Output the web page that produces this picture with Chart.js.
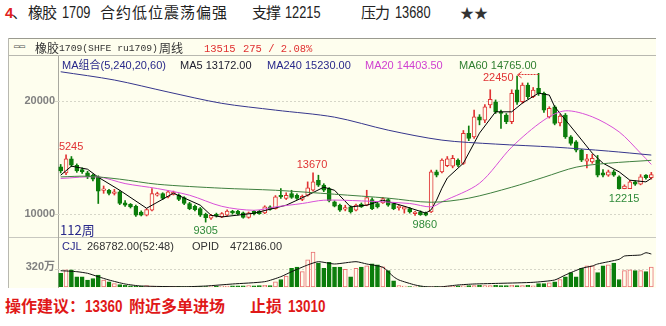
<!DOCTYPE html>
<html>
<head>
<meta charset="utf-8">
<script src="https://cdn.jsdelivr.net/npm/chart.js@4.4.1/dist/chart.umd.min.js"></script>
<style>
  body { margin: 0; width: 666px; height: 326px; background: #fff; position: relative; overflow: hidden; }
  .t { position: absolute; white-space: nowrap; line-height: 1; }
  .cn { font-family: "Noto Sans CJK SC", sans-serif; }
  .lat { font-family: "Liberation Sans", "Noto Sans CJK SC", sans-serif; }
  .mono { font-family: "Liberation Mono", monospace; }
  .sq { transform: scaleX(0.8); transform-origin: 0 0; font-family: "Liberation Sans", sans-serif; }
  #panel { position: absolute; left: 8px; top: 38px; width: 648px; height: 250px; background: #fefeee; }
  .hl { position: absolute; height: 1px; background: #a9a9a0; }
  .vl { position: absolute; width: 1px; background: #a9a9a0; }
  canvas { position: absolute; }
</style>
</head>
<body>

<!-- title -->
<div class="t lat" style="left:5px;top:5px;font-size:15px;font-weight:bold;color:#e02020">4</div>
<div class="t cn" style="left:12px;top:4px;font-size:15px;color:#222">、</div>
<div class="t cn" style="left:28px;top:4px;font-size:15px;letter-spacing:-1px;color:#222">橡胶</div>
<div class="t sq" style="left:62px;top:5px;font-size:16px;color:#222">1709</div>
<div class="t cn" style="left:100px;top:4px;font-size:15px;letter-spacing:1px;color:#222">合约低位震荡偏强</div>
<div class="t cn" style="left:252px;top:4px;font-size:15px;letter-spacing:-1px;color:#222">支撑</div>
<div class="t sq" style="left:285px;top:5px;font-size:16px;color:#222">12215</div>
<div class="t cn" style="left:361px;top:4px;font-size:15px;letter-spacing:-1px;color:#222">压力</div>
<div class="t sq" style="left:395px;top:5px;font-size:16px;color:#222">13680</div>
<div class="t cn" style="left:460px;top:5px;font-size:14px;color:#333">★★</div>

<div id="panel"></div>
<div class="hl" style="left:8px;top:38px;width:648px;background:#9a9a90"></div>
<div class="hl" style="left:8px;top:55px;width:648px;background:#b8b8b0"></div>
<div class="hl" style="left:8px;top:237px;width:648px;background:#c8c8c0"></div>
<div class="vl" style="left:8px;top:38px;height:250px;background:#b8b8b0"></div>
<div class="vl" style="left:58px;top:56px;height:232px;background:#a9a9a0"></div>

<canvas id="price" width="648" height="181" style="left:8px;top:56px"></canvas>
<canvas id="vol" width="648" height="38" style="left:8px;top:250px"></canvas>

<!-- panel header -->
<div class="t mono" style="left:14px;top:43px;font-size:9px;color:#555">▭▭</div>
<div class="t cn" style="left:35px;top:42px;font-size:12px;color:#333">橡胶</div>
<div class="t mono" style="left:59px;top:44px;font-size:9.7px;color:#333">1709(SHFE ru1709)</div>
<div class="t cn" style="left:159px;top:42px;font-size:12px;color:#333">周线</div>
<div class="t mono" style="left:204px;top:44px;font-size:10.5px;color:#e03030">13515</div>
<div class="t mono" style="left:243px;top:44px;font-size:10.5px;color:#e03030">275 / 2.08%</div>

<!-- MA legend -->
<div class="t lat" style="left:62px;top:60px;font-size:11px;color:#28288a">MA组合(5,240,20,60)</div>
<div class="t lat" style="left:180px;top:60px;font-size:11px;color:#202030">MA5 13172.00</div>
<div class="t lat" style="left:267px;top:60px;font-size:11px;color:#28288a">MA240 15230.00</div>
<div class="t lat" style="left:365px;top:60px;font-size:11px;color:#d040d0">MA20 14403.50</div>
<div class="t lat" style="left:459px;top:60px;font-size:11px;color:#2f7f2f">MA60 14765.00</div>

<div class="t cn" style="left:60px;top:223px;font-size:13px;color:#28288a">112周</div>

<!-- volume header -->
<div class="t lat" style="left:62px;top:241px;font-size:11px;color:#28288a">CJL</div>
<div class="t lat" style="left:87px;top:241px;font-size:11px;color:#303030">268782.00(52:48)</div>
<div class="t lat" style="left:192px;top:241px;font-size:11px;color:#303030">OPID</div>
<div class="t lat" style="left:230px;top:241px;font-size:11px;color:#303030">472186.00</div>

<!-- advice -->
<div class="t cn" style="left:5px;top:297px;font-size:16px;font-weight:bold;color:#e01818">操作建议：</div>
<div class="t sq" style="left:85px;top:299px;font-size:16px;font-weight:bold;color:#e01818;transform:scaleX(0.84)">13360</div>
<div class="t cn" style="left:129px;top:297px;font-size:16px;font-weight:bold;color:#e01818">附近多单进场</div>
<div class="t cn" style="left:250px;top:297px;font-size:16px;font-weight:bold;color:#e01818">止损</div>
<div class="t sq" style="left:288px;top:299px;font-size:16px;font-weight:bold;color:#e01818;transform:scaleX(0.84)">13010</div>

<script>
// weekly candles
const opens = [14190,13650,14890,14330,13950,13650,13450,13300,12100,12120,11830,11970,11000,10880,10700,10200,9910,10350,11680,11830,
  11530,11750,11680,11480,10950,10700,10500,10000,9650,10000,9760,9910,10260,10260,10120,9710,10260,10260,10120,10650,
  10500,11680,11390,11830,11680,11300,11680,12120,13000,12570,12270,11090,10800,10440,10650,10350,10880,10800,11300,10950,
  11000,11300,10950,10590,10440,10500,10060,10200,10120,10200,13740,13740,14300,14250,14780,14490,17140,16840,18610,18320,
  19650,19940,19050,18760,18170,21000,19940,21420,20380,21120,20680,18610,19500,18080,18760,16840,16400,15660,14700,14630,
  14780,13650,13450,13750,13300,12270,12270,12860,12650,13450,13240];
const highs = [14400,15245,15100,14450,14100,13800,13550,13400,12500,12200,12200,12100,11200,10950,10800,10300,10500,12270,11950,11900,
  12100,12050,11800,11550,11050,10800,10600,10100,10000,10100,10150,10400,10350,10350,10200,10200,10350,10350,10750,10750,
  11650,12270,11900,12120,11800,11700,12860,13670,13450,12700,12350,11200,10900,10800,10750,10900,11000,12120,11450,11050,
  11500,11400,11050,10800,10700,10600,10250,10300,10200,13900,13900,14900,15100,15200,14900,17400,17800,19200,18800,19700,
  21000,20100,19200,18900,21000,22200,21600,21600,21200,22450,20800,19500,19600,18800,18900,16950,16500,15750,15300,15300,
  15200,13950,13900,13900,13400,12600,13000,12950,13500,13500,13700];
const lows = [13650,13500,14200,13700,13600,13150,12950,10950,11850,11700,11700,10850,10700,10550,9800,9850,9850,10300,11600,11300,
  11450,11700,11200,10850,10400,10300,9800,9305,9550,9750,9700,9850,10000,9950,9650,9650,9950,10000,10050,10350,
  10450,11400,11300,11400,11300,11200,11600,12050,12450,12000,11100,10650,10250,10300,10100,10300,10600,10750,10400,10550,
  10950,10700,10400,10350,10100,10100,9900,9900,9860,10150,13300,13650,14200,14100,14200,14400,16500,16700,17900,18100,
  19400,18900,17580,18000,18000,19700,19800,20200,20300,20500,19000,18500,17900,17800,16700,16100,15500,14650,14100,14500,
  13300,13300,13350,13350,12215,12250,12250,12550,12600,13100,13100];
const closes = [13830,14890,14330,13830,13750,13300,13100,12030,12250,11830,11970,10950,10800,10650,9910,9910,10420,11830,11830,11390,
  11970,11950,11300,10950,10500,10400,9910,9700,9910,9850,10060,10290,10120,10060,9710,10120,10060,10060,10650,10420,
  11530,11530,11680,11480,11390,11590,12330,12860,12570,12120,11180,10710,10350,10590,10200,10800,10650,11480,10500,10650,
  11390,10800,10500,10700,10650,10200,10200,9960,9910,13740,13450,14780,14900,14930,14330,17140,16700,18610,18320,19500,
  20150,19050,18900,18170,20680,19900,21420,20380,20970,20680,19200,19350,18030,18670,16840,16260,15660,14780,14900,14930,
  13450,13450,13750,13450,12270,12480,12860,12650,13300,13240,13515];
// volume, in 万手
const volumes = [252,314,314,188,188,126,157,220,126,94,63,44,31,
  20,18,15,25,15,12,10,8,8,6,5,5,5,6,8,10,12,15,18,20,22,20,25,22,25,30,28,
  94,138,200,345,364,282,501,640,440,345,452,364,364,326,188,345,364,389,426,408,370,300,113,25,
  15,10,8,6,5,6,8,10,15,18,20,22,25,28,30,25,28,30,25,28,30,25,28,30,
  20,63,63,75,94,138,188,263,188,345,389,389,263,389,408,440,138,300,314,300,300,282,364];
// moving averages and open interest read at [week index, value]
const ma5Pts = [[0,13450],[2,14250],[5,13980],[7,13270],[11,12120],[16,10530],[21,11860],[26,10800],[28,9910],[30,9760],
  [36,10090],[42,10800],[46,11680],[49,12390],[51,12120],[54,10650],[57,10800],[60,11240],[64,10710],[68,10100],
  [69,10400],[70,11240],[71,12300],[72,13200],[75,14510],[78,17170],[81,19050],[84,19050],[86,19820],[89,20700],
  [91,20530],[92,19500],[96,17170],[99,15400],[101,14510],[104,13750],[106,13010],[109,12860],[110,13172]];
const ma20Pts = [[0,13160],[7,13300],[12,12710],[18,12270],[24,11680],[30,10700],[36,10350],[40,10650],[45,10950],[49,11240],
  [56,11180],[65,10950],[69,10650],[71,11090],[78,12740],[84,15930],[90,18320],[94,19140],[99,18610],[104,17280],[108,15400],[110,14404]];
const ma60Pts = [[0,13300],[5,13360],[11,13100],[18,12650],[30,12300],[40,12120],[51,11770],[61,11420],[69,11060],[76,11420],
  [84,12390],[90,13270],[96,14160],[102,14510],[110,14765]];
const ma240Pts = [[0,22590],[10,21860],[20,20800],[30,19800],[40,19200],[51,18580],[61,17430],[71,16550],[81,16200],[92,15930],
  [102,15580],[110,15230]];
const opidPts = [[0,23.3],[3,21.9],[5,19.6],[7,14.7],[9,10],[12,4.3],[15,1.4],[23,0.4],[27,1.4],[32,4.3],[38,7.6],[41,14.7],
  [43,21.9],[46,31.5],[48,36.2],[51,32.9],[55,36.2],[57,32.9],[60,28.2],[62,14.7],[63,10],[66,2.9],[68,0.4],[71,0.4],
  [74,2.9],[77,4.3],[82,5.3],[88,6.7],[92,10],[94,17.2],[97,26.7],[99,30],[100,32.9],[104,39.6],[105,44.3],[108,45.8],
  [109,49],[110,47.2]];

const RED = '#e03434';
const GREEN = '#0b7d0b';
const CREAM = '#fefeee';

const N = closes.length;
const labels = closes.map((c, i) => String(i + 1));
const isUp = closes.map((c, i) => c >= opens[i]);
const candleColor = isUp.map(u => u ? RED : GREEN);

function seriesFrom(pts) {
  const arr = new Array(N).fill(null);
  pts.forEach(p => { arr[p[0]] = p[1]; });
  return arr;
}

function maLine(pts, color, tension) {
  return {
    type: 'line', data: seriesFrom(pts), borderColor: color, borderWidth: 1,
    pointRadius: 0, spanGaps: true, tension: tension, order: 0
  };
}

// high / low markers
const notes = [
  { i: 1, kind: 'high', color: RED, dx: 2, dy: 2 },
  { i: 47, kind: 'high', color: RED, dx: -1, dy: 2 },
  { i: 89, kind: 'high', color: RED, arrow: true },
  { i: 27, kind: 'low', color: '#2f8a3a', dx: 0, dy: 3 },
  { i: 68, kind: 'low', color: '#2f8a3a', dx: -1, dy: 4 },
  { i: 104, kind: 'low', color: '#2f8a3a', dx: 5, dy: 4 }
];

const notePlugin = {
  id: 'notes',
  afterDatasetsDraw(chart) {
    const { ctx, chartArea, scales } = chart;
    ctx.save();
    ctx.beginPath();
    ctx.rect(chartArea.left, chartArea.top, chartArea.right - chartArea.left, chartArea.bottom - chartArea.top);
    ctx.clip();
    ctx.font = '11px "Liberation Sans"';
    notes.forEach(n => {
      const v = n.kind === 'high' ? highs[n.i] : lows[n.i];
      const x = scales.x.getPixelForValue(n.i);
      const y = scales.y.getPixelForValue(v);
      ctx.fillStyle = n.color;
      ctx.strokeStyle = n.color;
      if (n.arrow) {
        ctx.textAlign = 'right';
        ctx.textBaseline = 'middle';
        ctx.fillText(String(v), x - 25, y + 5);
        ctx.lineWidth = 1;
        ctx.beginPath();
        ctx.moveTo(x - 17, y - 1.5); ctx.lineTo(x - 21, y + 1.5); ctx.lineTo(x - 17, y + 4.5);
        ctx.stroke();
        ctx.setLineDash([2, 1]);
        ctx.beginPath();
        ctx.moveTo(x - 20, Math.round(y) + 1.5); ctx.lineTo(x, Math.round(y) + 1.5);
        ctx.stroke();
        ctx.setLineDash([]);
      } else {
        ctx.textAlign = 'center';
        ctx.textBaseline = n.kind === 'high' ? 'bottom' : 'top';
        ctx.fillText(String(v), x + n.dx, n.kind === 'high' ? y - n.dy : y + n.dy);
      }
    });
    ctx.restore();
  }
};

// fixed axis width, no label padding above/below the plot
const fixedLeft = s => { s.width = 50; s.paddingTop = 0; s.paddingBottom = 0; };

new Chart(document.getElementById('price'), {
  type: 'bar',
  data: {
    labels: labels,
    datasets: [
      maLine(ma240Pts, '#36368c', 0.3),
      maLine(ma60Pts, '#3f7f3f', 0.3),
      maLine(ma20Pts, '#d850d8', 0.3),
      maLine(ma5Pts, '#000000', 0),
      {
        data: opens.map((o, i) => [o, closes[i]]),
        backgroundColor: isUp.map(u => u ? CREAM : GREEN),
        borderColor: candleColor, borderWidth: 1, borderSkipped: false,
        barThickness: 4, grouped: false, order: 1
      },
      {
        data: lows.map((l, i) => [l, highs[i]]),
        backgroundColor: candleColor, barThickness: 1, grouped: false, order: 2
      }
    ]
  },
  options: {
    responsive: false, animation: false,
    layout: { padding: { left: 0, right: 2, top: 0, bottom: 0 }, autoPadding: false },
    plugins: { legend: { display: false }, tooltip: { enabled: false } },
    scales: {
      x: { display: false, offset: true },
      y: {
        min: 7990, max: 23982,
        afterFit: fixedLeft,
        afterBuildTicks: s => { s.ticks = [{ value: 10000 }, { value: 20000 }]; },
        ticks: {
          color: '#808080', padding: 0,
          font: { family: 'Liberation Sans', size: 11, weight: 'bold' },
          callback: v => String(v)
        },
        grid: { color: '#d6d6c8', tickLength: 3 },
        border: { display: false, dash: [2, 2] }
      }
    }
  },
  plugins: [notePlugin]
});

new Chart(document.getElementById('vol'), {
  type: 'bar',
  data: {
    labels: labels,
    datasets: [
      {
        type: 'line', data: seriesFrom(opidPts), yAxisID: 'y2', borderColor: '#111', borderWidth: 1,
        pointRadius: 0, spanGaps: true, tension: 0.2, order: 0
      },
      {
        data: volumes,
        backgroundColor: isUp.map(u => u ? CREAM : GREEN),
        borderColor: isUp.map(u => u ? '#e87070' : GREEN),
        borderWidth: 1, borderSkipped: false, barThickness: 4, order: 1
      }
    ]
  },
  options: {
    responsive: false, animation: false,
    layout: { padding: { left: 0, right: 2, top: 0, bottom: 1 }, autoPadding: false },
    plugins: { legend: { display: false }, tooltip: { enabled: false } },
    scales: {
      x: { display: false, offset: true },
      y: {
        min: 0, max: 680,
        afterFit: fixedLeft,
        afterBuildTicks: s => { s.ticks = [{ value: 320 }]; },
        ticks: {
          color: '#808080', padding: 0, labelOffset: -3,
          font: { family: '"Liberation Sans", "Noto Sans CJK SC"', size: 11, weight: 'bold' },
          callback: v => v + '万'
        },
        grid: { color: '#d6d6c8', tickLength: 3 },
        border: { display: false, dash: [2, 2] }
      },
      y2: { display: false, min: 0, max: 52.9 }
    }
  }
});
</script>
</body>
</html>
